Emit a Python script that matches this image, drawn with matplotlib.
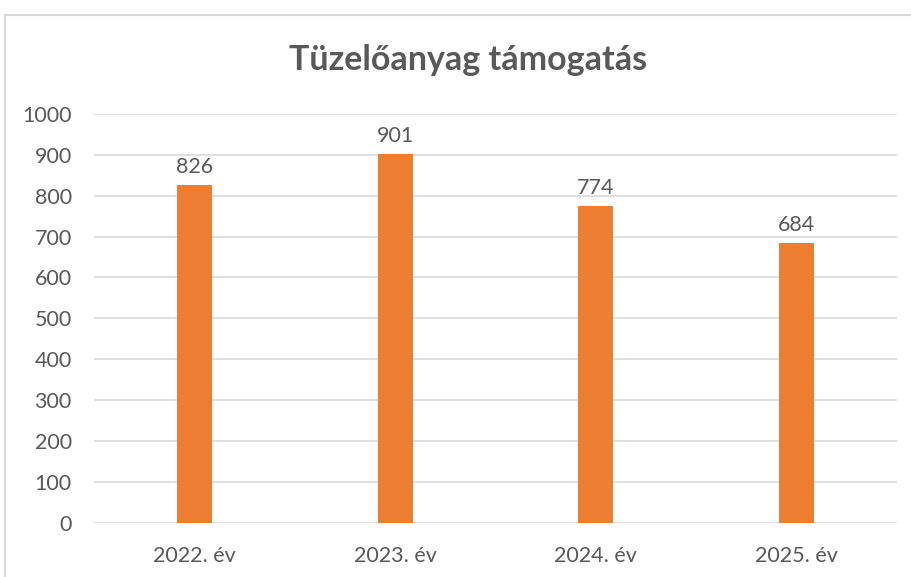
import matplotlib
matplotlib.use("Agg")
import matplotlib.pyplot as plt
from matplotlib.patches import Rectangle

categories = ["2022. év", "2023. év", "2024. év", "2025. év"]
values = [826, 901, 774, 684]
yticks = [0, 100, 200, 300, 400, 500, 600, 700, 800, 900, 1000]
title = "Tüzelőanyag támogatás"

plt.rcParams['font.family'] = ['Lato', 'DejaVu Sans']
text_color = "#595959"
bar_color = "#ED7D31"
grid_color = "#D9D9D9"

fig = plt.figure(figsize=(9.12, 5.77), dpi=100)
fig.patches.append(Rectangle((5/912, -0.2), 1.2, 1.2 - 15/577, transform=fig.transFigure,
                             fill=False, edgecolor=grid_color, linewidth=1.5))
ax = fig.add_axes([94/912, 1 - 522.6/577, (897-94)/912, (522.6-114)/577])

x = list(range(len(categories)))
bars = ax.bar(x, values, width=0.175, color=bar_color, zorder=3)
for xi, v in zip(x, values):
    ax.annotate(str(v), (xi, v), xytext=(0, 6), textcoords="offset points",
                ha="center", va="bottom", fontsize=15.5, color=text_color)

ax.set_xlim(-0.5, len(categories) - 0.5)
ax.set_ylim(0, 1000)
ax.set_yticks(yticks)
ax.set_yticklabels([str(t) for t in yticks])
ax.set_xticks(x)
ax.set_xticklabels(categories)
ax.tick_params(axis="both", length=0, labelsize=15.5, labelcolor=text_color)
ax.tick_params(axis="y", pad=16)
ax.tick_params(axis="x", pad=17)
ax.grid(axis="y", color=grid_color, linewidth=1.2, zorder=0)
for s in ax.spines.values():
    s.set_visible(False)

fig.text(468.5/912, 1 - 60/577, title, ha="center", va="center",
         fontsize=24.5, fontweight="bold", color=text_color)

fig.savefig("out.png", dpi=100)
